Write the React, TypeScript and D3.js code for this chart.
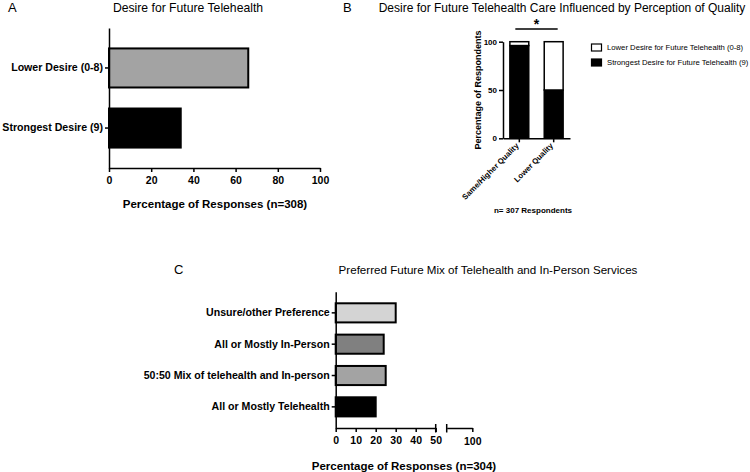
import React, { useEffect, useRef } from 'react'
import * as d3 from 'd3'

// Panel A
const desireCategories = ['Lower Desire (0-8)', 'Strongest Desire (9)']
const desireValues = [66, 34]
const desireColors = ['#a3a3a3', '#000000']
const desireTicks = [0, 20, 40, 60, 80, 100]

// Panel B
const qualityCategories = ['Same/Higher Quality', 'Lower Quality']
const strongestPct = [96, 50]
const lowerPct = [4, 50]
const qualityTicks = [0, 50, 100]
const legendLabels = ['Lower Desire for Future Telehealth (0-8)', 'Strongest Desire for Future Telehealth (9)']

// Panel C
const mixCategories = ['Unsure/other Preference', 'All or Mostly In-Person', '50:50 Mix of telehealth and In-person', 'All or Mostly Telehealth']
const mixValues = [30, 24, 25, 20]
const mixColors = ['#d4d4d4', '#808080', '#a3a3a3', '#000000']
const mixTicks = [0, 10, 20, 30, 40, 50]

const FONT = '"Liberation Sans", Arial, Helvetica, sans-serif'

export default function App() {
  const svgRef = useRef<SVGSVGElement>(null)
  const width = 750
  const height = 472

  useEffect(() => {
    const svg = d3.select(svgRef.current)
    svg.selectAll('*').remove()
    svg.attr('font-family', FONT)

    const styleAxis = (g: any, size: number) => {
      g.selectAll('.domain').attr('stroke', '#000').attr('stroke-width', 1.5)
      g.selectAll('.tick line').attr('stroke', '#000').attr('stroke-width', 1.5)
      g.selectAll('.tick text').attr('fill', '#000').attr('font-size', size).attr('font-weight', 'bold').attr('font-family', FONT)
    }

    // ---------- Panel A ----------
    {
      const x = d3.scaleLinear().domain([0, 100]).range([109, 320])
      const y = d3.scaleBand().domain(desireCategories).range([28, 168]).paddingInner(0.35).paddingOuter(0.34)
      const g = svg.append('g')

      g.append('text').attr('x', 8).attr('y', 12).attr('font-size', 13).text('A')
      g.append('text').attr('x', 188).attr('y', 12).attr('font-size', 12.2).attr('text-anchor', 'middle')
        .text('Desire for Future Telehealth')

      g.selectAll('rect.a').data(desireCategories).enter().append('rect')
        .attr('x', x(0))
        .attr('y', d => y(d)!)
        .attr('width', (d, i) => x(desireValues[i]) - x(0))
        .attr('height', y.bandwidth())
        .attr('fill', (d, i) => desireColors[i])
        .attr('stroke', '#000').attr('stroke-width', 2)

      const xa = g.append('g').attr('transform', 'translate(0,168)')
        .call(d3.axisBottom(x).tickValues(desireTicks).tickSize(4).tickSizeOuter(0).tickPadding(5))
      styleAxis(xa, 10.5)

      const ya = g.append('g').attr('transform', 'translate(109,0)')
        .call(d3.axisLeft(y).tickSize(4).tickSizeOuter(0).tickPadding(2))
      styleAxis(ya, 10.6)

      g.append('text').attr('x', 215).attr('y', 208).attr('font-size', 11.5).attr('font-weight', 'bold')
        .attr('text-anchor', 'middle').text('Percentage of Responses (n=308)')
    }

    // ---------- Panel B ----------
    {
      const x = d3.scaleBand().domain(qualityCategories).range([503, 570]).paddingInner(0.45).paddingOuter(0.2)
      const y = d3.scaleLinear().domain([0, 100]).range([138.3, 41.7])
      const g = svg.append('g')

      g.append('text').attr('x', 343).attr('y', 12).attr('font-size', 13).text('B')
      g.append('text').attr('x', 562).attr('y', 12).attr('font-size', 12).attr('text-anchor', 'middle')
        .text('Desire for Future Telehealth Care Influenced by Perception of Quality')

      const stackRows = qualityCategories.map((c, i) => ({ cat: c, strongest: strongestPct[i], lower: lowerPct[i] }))
      const series = d3.stack<any>().keys(['strongest', 'lower'])(stackRows)
      const fills = ['#000', '#fff']

      series.forEach((s, si) => {
        g.selectAll(`rect.b${si}`).data(s).enter().append('rect')
          .attr('x', d => x(d.data.cat)!)
          .attr('y', d => y(d[1]))
          .attr('width', x.bandwidth())
          .attr('height', d => y(d[0]) - y(d[1]))
          .attr('fill', fills[si])
          .attr('stroke', '#000').attr('stroke-width', 1.5)
      })

      const ya = g.append('g').attr('transform', 'translate(503,0)')
        .call(d3.axisLeft(y).tickValues(qualityTicks).tickSize(4).tickSizeOuter(0).tickPadding(2))
      styleAxis(ya, 8)

      const xa = g.append('g').attr('transform', 'translate(0,138.3)')
        .call(d3.axisBottom(x).tickSize(4).tickSizeOuter(0))
      styleAxis(xa, 7.8)
      xa.selectAll('.tick text')
        .attr('text-anchor', 'end')
        .attr('transform', 'translate(-2,6) rotate(-45)')
        .attr('dy', '0.35em')
        .attr('y', 0)

      g.append('text').attr('transform', 'translate(481,90) rotate(-90)').attr('font-size', 9)
        .attr('font-weight', 'bold').attr('text-anchor', 'middle').text('Percentage of Respondents')

      // significance bracket
      const x1 = x(qualityCategories[0])! + x.bandwidth() / 2 - 4
      const x2 = x(qualityCategories[1])! + x.bandwidth() / 2 + 4
      g.append('line').attr('x1', x1).attr('x2', x2).attr('y1', 29).attr('y2', 29)
        .attr('stroke', '#000').attr('stroke-width', 1.3)
      g.append('text').attr('x', (x1 + x2) / 2).attr('y', 29).attr('font-size', 14).attr('font-weight', 'bold')
        .attr('text-anchor', 'middle').text('*')

      // legend
      const legFills = ['#fff', '#000']
      legendLabels.forEach((l, i) => {
        const ly = 47.5 + i * 15
        g.append('rect').attr('x', 591.5).attr('y', ly - 3.5).attr('width', 10).attr('height', 7)
          .attr('fill', legFills[i]).attr('stroke', '#000').attr('stroke-width', 1.2)
        g.append('text').attr('x', 607).attr('y', ly).attr('dy', '0.35em').attr('font-size', 7.7).text(l)
      })

      g.append('text').attr('x', 533).attr('y', 213).attr('font-size', 8).attr('font-weight', 'bold')
        .attr('text-anchor', 'middle').text('n= 307 Respondents')
    }

    // ---------- Panel C ----------
    {
      const x = d3.scaleLinear().domain([0, 50]).range([335.7, 435.7])
      const x2 = d3.scaleLinear().domain([90, 100]).range([446.7, 472.3])
      const y = d3.scaleBand().domain(mixCategories).range([291.7, 428]).paddingInner(0.39).paddingOuter(0.37)
      const g = svg.append('g')

      g.append('text').attr('x', 174).attr('y', 274).attr('font-size', 13).text('C')
      g.append('text').attr('x', 488).attr('y', 274).attr('font-size', 11.6).attr('text-anchor', 'middle')
        .text('Preferred Future Mix of Telehealth and In-Person Services')

      g.selectAll('rect.c').data(mixCategories).enter().append('rect')
        .attr('x', x(0))
        .attr('y', d => y(d)!)
        .attr('width', (d, i) => x(mixValues[i]) - x(0))
        .attr('height', y.bandwidth())
        .attr('fill', (d, i) => mixColors[i])
        .attr('stroke', '#000').attr('stroke-width', 2)

      const xa = g.append('g').attr('transform', 'translate(0,428)')
        .call(d3.axisBottom(x).tickValues(mixTicks).tickSize(4).tickSizeOuter(0).tickPadding(5))
      styleAxis(xa, 10.5)

      const xb = g.append('g').attr('transform', 'translate(0,428)')
        .call(d3.axisBottom(x2).tickValues([100]).tickSize(4).tickSizeOuter(0).tickPadding(6))
      styleAxis(xb, 10.5)

      // break marks
      ;[x(50), x2(90)].forEach(bx => {
        g.append('line').attr('x1', bx).attr('x2', bx).attr('y1', 424).attr('y2', 432.5)
          .attr('stroke', '#000').attr('stroke-width', 1.5)
      })

      const ya = g.append('g').attr('transform', 'translate(335.7,0)')
        .call(d3.axisLeft(y).tickSize(4).tickSizeOuter(0).tickPadding(2))
      styleAxis(ya, 10.6)

      g.append('text').attr('x', 404).attr('y', 470).attr('font-size', 11.5).attr('font-weight', 'bold')
        .attr('text-anchor', 'middle').text('Percentage of Responses (n=304)')
    }
  }, [])

  return (
    <svg ref={svgRef} width={width} height={height}
      style={{ position: 'absolute', left: 0, top: 0, background: '#fff' }} />
  )
}
